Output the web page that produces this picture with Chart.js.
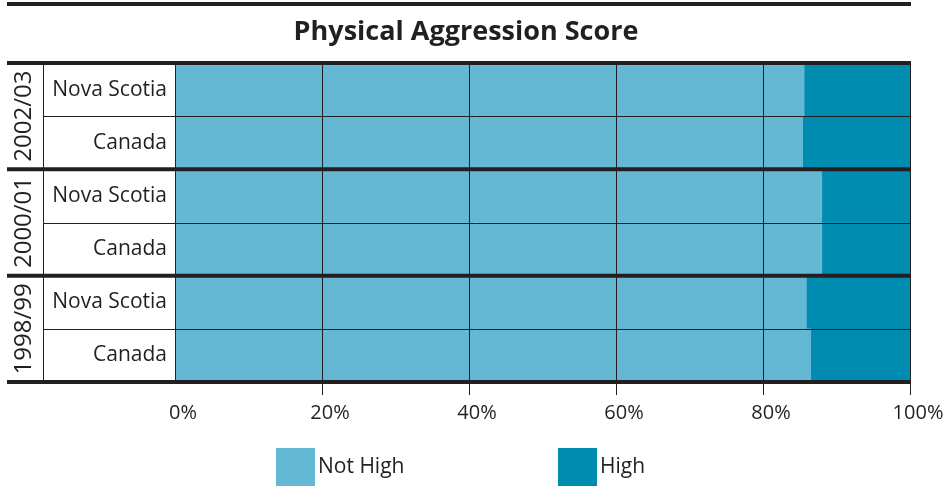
<!DOCTYPE html>
<html>
<head>
<meta charset="utf-8">
<script src="https://cdn.jsdelivr.net/npm/chart.js@4.4.1/dist/chart.umd.min.js"></script>
<style>
  html, body { margin: 0; padding: 0; background: #ffffff; }
  #wrap { width: 949px; height: 486px; position: relative; }
</style>
</head>
<body>
<div id="wrap"><canvas id="chart" width="949" height="486"></canvas></div>
<script>
// Survey periods, each covering two rows (Nova Scotia, Canada)
const years = ['2002/03', '2000/01', '1998/99'];
const regions = ['Nova Scotia', 'Canada', 'Nova Scotia', 'Canada', 'Nova Scotia', 'Canada'];

// Share of children (%) by physical aggression score
const notHigh = [85.6, 85.4, 88.0, 88.0, 85.9, 86.5];
const high    = [14.4, 14.6, 12.0, 12.0, 14.1, 13.5];

const xTicks = [0, 20, 40, 60, 80, 100];

const INK = '#231f20';
const LIGHT = '#65b8d4';
const DARK = '#008bb0';
const FONT = '"Open Sans", "DejaVu Sans", sans-serif';

// Draws the title, the table rules, the rotated year labels and the legend
const framePlugin = {
  id: 'frame',
  afterDatasetsDraw(chart) {
    const ctx = chart.ctx;
    const y = chart.scales.y;
    const area = chart.chartArea;
    const leftEdge = 7;
    const divider = 43;
    const n = regions.length;
    const bound = (i) => {
      if (i <= 0) return area.top;
      if (i >= n) return area.bottom;
      return (y.getPixelForValue(i - 1) + y.getPixelForValue(i)) / 2;
    };

    ctx.save();
    ctx.strokeStyle = INK;

    // thin rules between the two rows of each period
    ctx.lineWidth = 1;
    for (let g = 0; g < years.length; g++) {
      const yy = Math.round(bound(g * 2 + 1)) + 0.5;
      ctx.beginPath();
      ctx.moveTo(divider, yy);
      ctx.lineTo(area.right, yy);
      ctx.stroke();
    }

    // vertical divider between period and region labels
    ctx.beginPath();
    ctx.moveTo(divider + 0.5, area.top);
    ctx.lineTo(divider + 0.5, area.bottom);
    ctx.stroke();

    // heavy rules between periods
    ctx.lineWidth = 4;
    for (let g = 0; g <= years.length; g++) {
      const yy = bound(g * 2);
      ctx.beginPath();
      ctx.moveTo(leftEdge, yy);
      ctx.lineTo(area.right + 1, yy);
      ctx.stroke();
    }
    // rule above the title
    ctx.beginPath();
    ctx.moveTo(leftEdge, 4);
    ctx.lineTo(area.right + 1, 4);
    ctx.stroke();

    // rotated period labels
    ctx.fillStyle = INK;
    ctx.font = '24px ' + FONT;
    ctx.textAlign = 'center';
    ctx.textBaseline = 'middle';
    for (let g = 0; g < years.length; g++) {
      const cy = (bound(g * 2) + bound(g * 2 + 2)) / 2;
      ctx.save();
      ctx.translate(23, cy);
      ctx.rotate(-Math.PI / 2);
      ctx.fillText(years[g], 0, 1);
      ctx.restore();
    }

    // title
    ctx.font = 'bold 27px ' + FONT;
    ctx.fillText('Physical Aggression Score', 466, 32);

    // legend
    const items = chart.data.datasets;
    const legendX = [276, 558];
    ctx.font = '21px ' + FONT;
    ctx.textAlign = 'left';
    items.forEach((ds, i) => {
      ctx.fillStyle = ds.backgroundColor;
      ctx.fillRect(legendX[i], 448, 39, 38);
      ctx.fillStyle = INK;
      ctx.fillText(ds.label, legendX[i] + 42, 467);
    });
    ctx.restore();
  }
};

new Chart(document.getElementById('chart'), {
  type: 'bar',
  data: {
    labels: regions,
    datasets: [
      { label: 'Not High', data: notHigh, backgroundColor: LIGHT, borderWidth: 0 },
      { label: 'High', data: high, backgroundColor: DARK, borderWidth: 0 }
    ]
  },
  options: {
    indexAxis: 'y',
    responsive: false,
    animation: false,
    layout: { padding: { left: 0, right: 39, top: 63, bottom: 0 } },
    datasets: { bar: { barPercentage: 1, categoryPercentage: 1 } },
    plugins: {
      legend: { display: false },
      title: { display: false },
      tooltip: { enabled: false }
    },
    scales: {
      x: {
        stacked: true,
        min: 0,
        max: 100,
        afterBuildTicks(scale) { scale.ticks = xTicks.map(v => ({ value: v })); },
        afterFit(scale) { scale.height = 104; },
        grid: {
          z: 1,
          color: (c) => (c.tick && c.tick.value === 0 ? 'rgba(0,0,0,0)' : INK),
          lineWidth: 1,
          tickLength: 13,
          drawOnChartArea: true
        },
        border: { display: false },
        ticks: {
          color: INK,
          font: { family: FONT, size: 20 },
          padding: 6,
          labelOffset: 8,
          maxRotation: 0,
          callback: (v) => v + '%'
        }
      },
      y: {
        stacked: true,
        afterFit(scale) { scale.width = 175; },
        grid: { display: false },
        border: { display: true, color: INK, width: 1, z: 1 },
        ticks: {
          color: INK,
          font: { family: FONT, size: 21 },
          padding: 0
        }
      }
    }
  },
  plugins: [framePlugin]
});
</script>
</body>
</html>
